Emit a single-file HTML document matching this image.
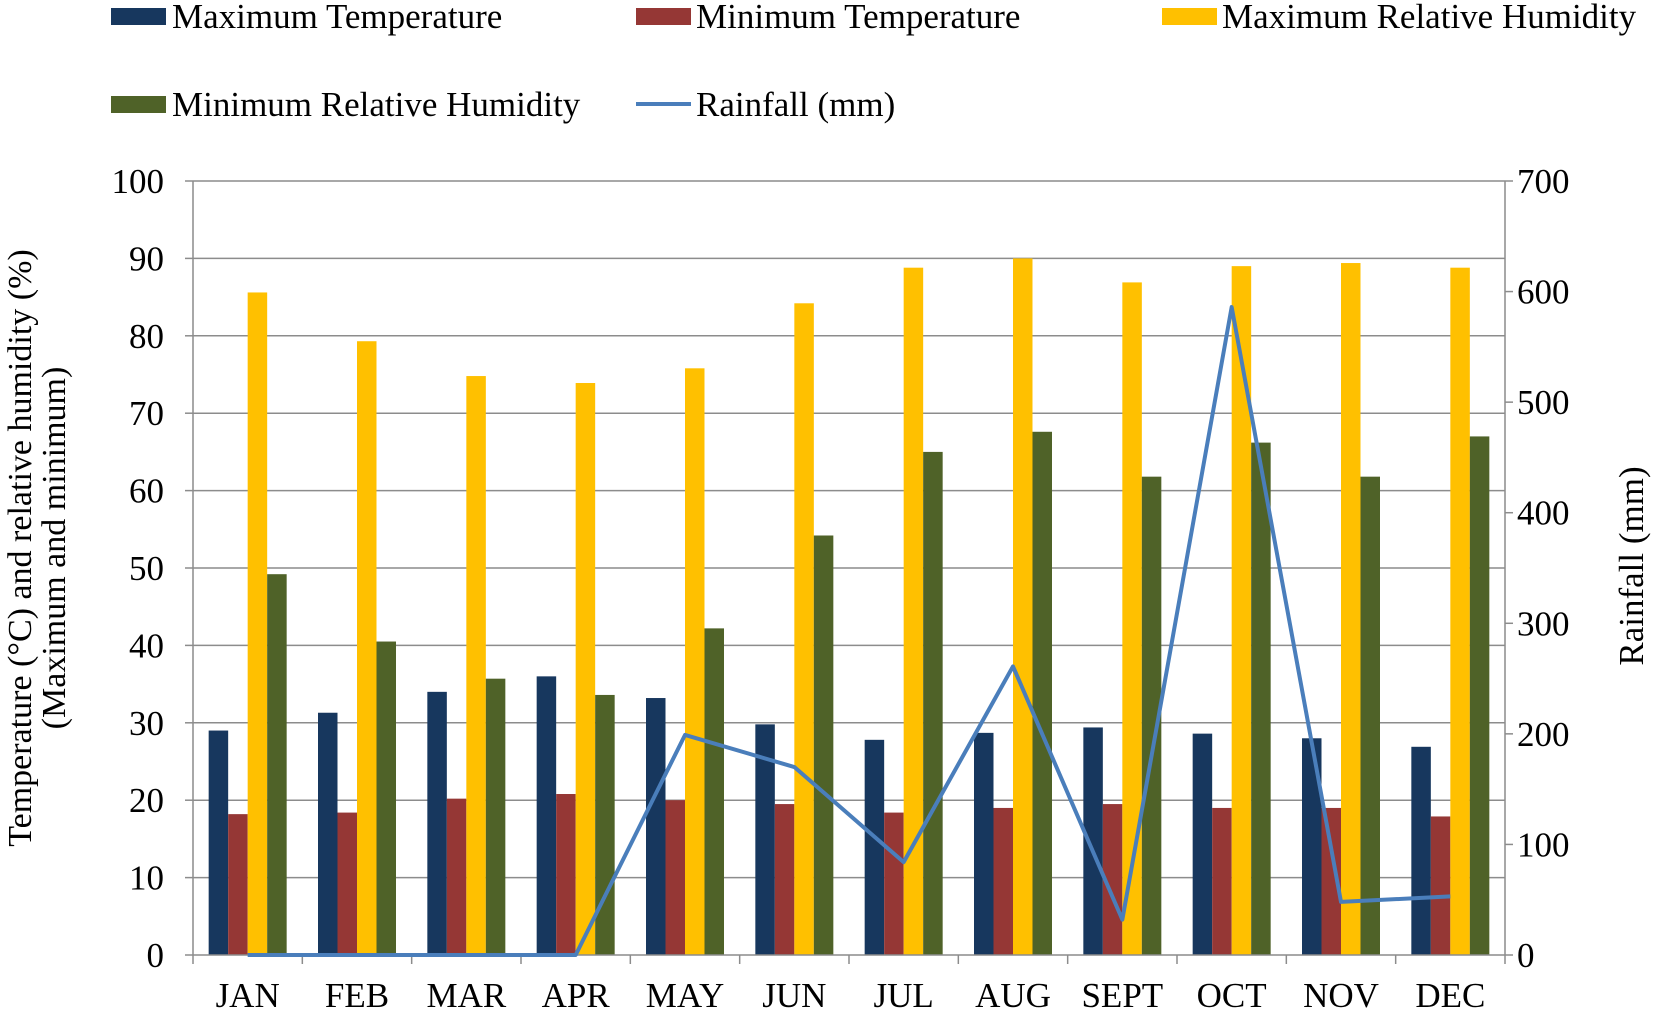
<!DOCTYPE html>
<html><head><meta charset="utf-8"><style>
html,body{margin:0;padding:0;background:#fff}
svg{display:block;font-family:"Liberation Serif",serif}
</style></head><body>
<svg id="chart" width="1654" height="1009" viewBox="0 0 1654 1009">
<g id="legend">
 <g><rect x="111" y="8" width="55" height="17" fill="#17375e"/><text x="172" y="28" font-size="35">Maximum Temperature</text></g>
 <g><rect x="636" y="8" width="55" height="17" fill="#953735"/><text x="696" y="28" font-size="35">Minimum Temperature</text></g>
 <g><rect x="1162" y="8" width="55" height="17" fill="#ffc000"/><text x="1222" y="28" font-size="35">Maximum Relative Humidity</text></g>
 <g><rect x="111" y="96" width="55" height="17" fill="#4f6228"/><text x="172" y="116" font-size="35">Minimum Relative Humidity</text></g>
 <g><line x1="636" y1="104" x2="691" y2="104" stroke="#4a7ebb" stroke-width="4"/><text x="696" y="116" font-size="35">Rainfall (mm)</text></g>
</g>
<g id="grid"></g><g id="bars"></g><g id="axes"></g><g id="line"></g>
<text transform="translate(31,548) rotate(-90)" text-anchor="middle" font-size="34">Temperature (°C) and relative humidity (%)</text>
<text transform="translate(65,548) rotate(-90)" text-anchor="middle" font-size="34">(Maximum and minimum)</text>
<text transform="translate(1643,566) rotate(-90)" text-anchor="middle" font-size="35">Rainfall (mm)</text>
</svg>
<script>
const categories=["JAN","FEB","MAR","APR","MAY","JUN","JUL","AUG","SEPT","OCT","NOV","DEC"];
const maxTemp=[29,31.3,34,36,33.2,29.8,27.8,28.7,29.4,28.6,28,26.9];
const minTemp=[18.2,18.4,20.2,20.8,20,19.5,18.4,19,19.5,19,19,17.9];
const maxRH=[85.6,79.3,74.8,73.9,75.8,84.2,88.8,90,86.9,89,89.4,88.8];
const minRH=[49.2,40.5,35.7,33.6,42.2,54.2,65,67.6,61.8,66.2,61.8,67];
const rainfall=[0,0,0,0,199,170,84,261,32,586,48,53];
const leftTicks=[0,10,20,30,40,50,60,70,80,90,100];
const rightTicks=[0,100,200,300,400,500,600,700];
const NS="http://www.w3.org/2000/svg";
const L=193,R=1505,T=181,B=955;
const band=(R-L)/categories.length;
const y=v=>B-(v/100)*(B-T);
const y2=v=>B-(v/700)*(B-T);
const xc=i=>L+band*(i+0.5);
function mk(tag,attrs,parent){const e=document.createElementNS(NS,tag);for(const k in attrs)e.setAttribute(k,attrs[k]);parent.appendChild(e);return e;}
const grid=document.getElementById('grid'),bars=document.getElementById('bars'),axes=document.getElementById('axes'),lineG=document.getElementById('line');
leftTicks.forEach(t=>{
 if(t>0){const g=mk('line',{x1:L,x2:R,y1:y(t),y2:y(t),stroke:'#8c8c8c','stroke-width':1.5},grid);
 
 }
 mk('line',{x1:L-8,x2:L,y1:y(t),y2:y(t),stroke:'#8c8c8c','stroke-width':1.5},axes);
 const tx=mk('text',{x:164,y:y(t)+12,'text-anchor':'end','font-size':35},axes);tx.textContent=t;
 
 
});
rightTicks.forEach(t=>{
 mk('line',{x1:R,x2:R+8,y1:y2(t),y2:y2(t),stroke:'#8c8c8c','stroke-width':1.5},axes);
 const tx=mk('text',{x:1517,y:y2(t)+12,'font-size':35},axes);tx.textContent=t;
 
 
});
const series=[[maxTemp,'#17375e','max-temp'],[minTemp,'#953735','min-temp'],[maxRH,'#ffc000','max-rh'],[minRH,'#4f6228','min-rh']];
const bw=19.5;
categories.forEach((c,i)=>{
 const start=xc(i)-2*bw;
 series.forEach((s,j)=>{
  const r=mk('rect',{x:start+j*bw,y:y(s[0][i]),width:bw,height:B-y(s[0][i]),fill:s[1]},bars);
  
  
 });
 const tx=mk('text',{x:xc(i),y:1007,'text-anchor':'middle','font-size':35},axes);tx.textContent=c;
 
 
});
for(let i=0;i<=categories.length;i++){mk('line',{x1:L+band*i,x2:L+band*i,y1:B,y2:B+9,stroke:'#8c8c8c','stroke-width':1.5},axes);}
mk('line',{x1:L,x2:L,y1:T,y2:B,stroke:'#8c8c8c','stroke-width':1.5},axes);
mk('line',{x1:R,x2:R,y1:T,y2:B,stroke:'#8c8c8c','stroke-width':1.5},axes);
mk('line',{x1:L,x2:R,y1:B,y2:B,stroke:'#8c8c8c','stroke-width':1.5},axes);
const pts=rainfall.map((v,i)=>xc(i)+','+y2(v)).join(' ');
const pl=mk('polyline',{points:pts,fill:'none',stroke:'#4a7ebb','stroke-width':4,'stroke-linejoin':'round'},lineG);


</script>
</body></html>
